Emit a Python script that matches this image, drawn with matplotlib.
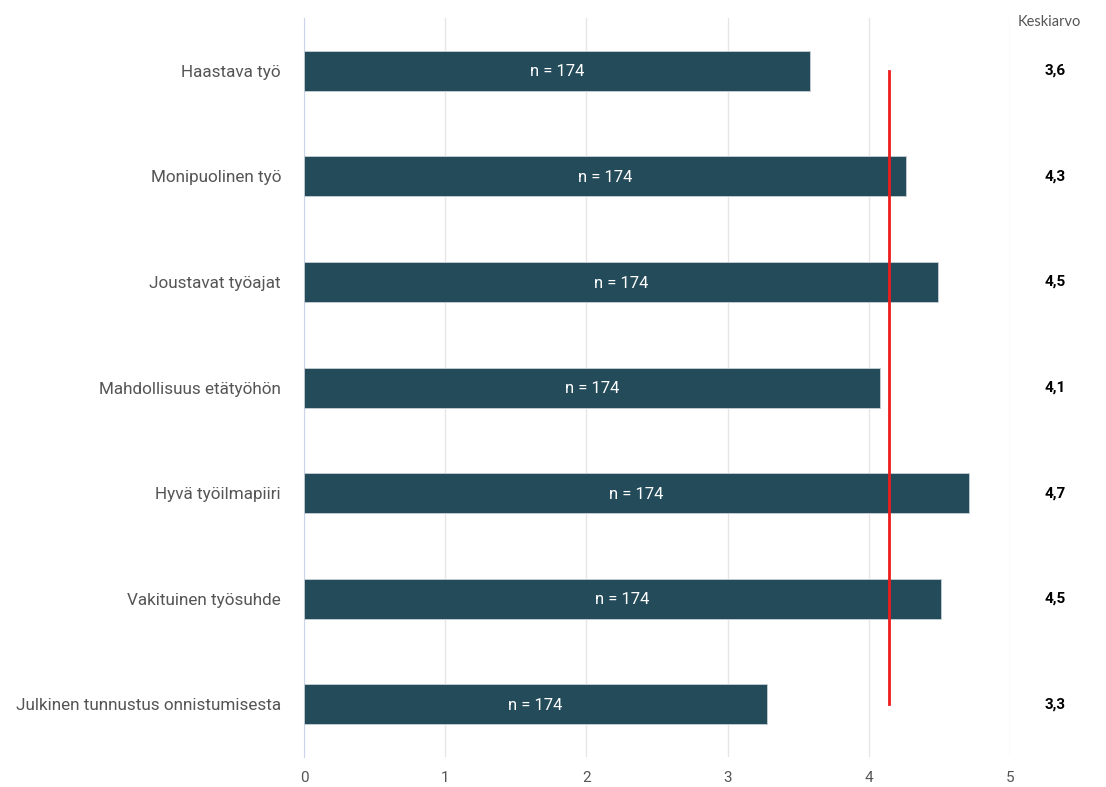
import matplotlib.pyplot as plt
import matplotlib.transforms as mtransforms
import numpy as np

# Data
categories = ['Haastava työ', 'Monipuolinen työ', 'Joustavat työajat',
              'Mahdollisuus etätyöhön', 'Hyvä työilmapiiri',
              'Vakituinen työsuhde', 'Julkinen tunnustus onnistumisesta']
values = [3.58, 4.26, 4.49, 4.08, 4.71, 4.51, 3.28]
mean_labels = ['3,6', '4,3', '4,5', '4,1', '4,7', '4,5', '3,3']
n_labels = ['n = 174'] * 7
overall_mean = 4.14
x_ticks = [0, 1, 2, 3, 4, 5]

plt.rcParams['font.family'] = ['Roboto', 'DejaVu Sans']

fig = plt.figure(figsize=(11.06, 7.87), dpi=100)
ax = fig.add_axes([0.2749, 0.0381, 0.9132 - 0.2749, 0.977 - 0.0381])

y = np.arange(len(categories))
ax.barh(y, values, height=0.38, color='#234b5a', edgecolor='#c8d0d6',
        linewidth=0.6, zorder=3)

for yi, v, t in zip(y, values, n_labels):
    ax.text(v / 2, yi + 0.01, t, color='white', ha='center', va='center',
            fontsize=12, zorder=4)

# mean line
ax.plot([overall_mean, overall_mean], [y[0], y[-1]], color='#ee1c1c',
        linewidth=2, zorder=5)

ax.set_xlim(0, 5)
ax.set_ylim(len(categories) - 0.5, -0.5)
ax.set_yticks(y)
ax.set_yticklabels(categories, fontsize=12.3, color='#555555')
ax.set_xticks(x_ticks)
ax.set_xticklabels([str(t) for t in x_ticks], fontsize=11, color='#555555')
ax.tick_params(axis='both', length=0)
ax.tick_params(axis='y', pad=16.5)
ax.tick_params(axis='x', pad=10)

ax.grid(axis='x', color='#e6e6e6', linewidth=1, zorder=0)
for s in ['top', 'right', 'bottom']:
    ax.spines[s].set_visible(False)
ax.spines['left'].set_color('#ccd6eb')
ax.spines['left'].set_zorder(2)

# right-hand mean column
trans = mtransforms.blended_transform_factory(fig.transFigure, ax.transData)
for yi, m in zip(y, mean_labels):
    ax.text(1055 / 1106, yi, m, transform=trans,
            ha='center', va='center', fontsize=11, fontweight='bold',
            color='black')
fig.text(1049 / 1106, 1 - 22 / 787, 'Keskiarvo', ha='center', va='center',
         fontsize=10.5, color='#555555', family=['Lato', 'DejaVu Sans'])

fig.savefig('out.png', dpi=100, facecolor='white')
